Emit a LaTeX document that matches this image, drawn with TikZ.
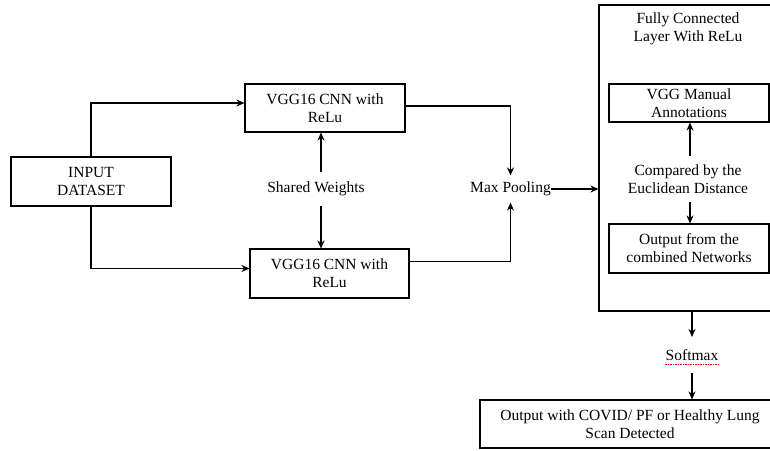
\documentclass[tikz,border=0pt]{standalone}
\usepackage{fontspec}
\setmainfont{Liberation Serif}
\usetikzlibrary{arrows.meta}

\tikzset{
  box/.style={draw,align=center,inner sep=0pt},
  lbl/.style={align=center,inner xsep=0pt,inner ysep=6pt}
}

\begin{document}
\begin{tikzpicture}[x=1pt,y=-1pt,line width=1.1pt,>={Stealth[length=8pt,width=7pt]},
  font=\fontsize{15.5}{18}\selectfont]
  \useasboundingbox (0,0) rectangle (770,450);
  \clip (0,0) rectangle (770,450);
  \node[box,minimum width=160pt,minimum height=49pt] (input) at (91,181.5) {INPUT\\DATASET};
  \node[box,minimum width=160pt,minimum height=48pt] (vggtop) at (325,108) {VGG16 CNN with\\ReLu};
  \node[box,minimum width=159pt,minimum height=49pt] (vggbot) at (329.5,273.5) {VGG16 CNN with\\ReLu};
  \node[lbl,inner ysep=9pt] (shared) at (316,189) {Shared Weights};
  \node[lbl] (pool) at (510.5,189) {Max Pooling};
  \node[box,minimum width=179pt,minimum height=306pt] (fc) at (688.5,158) {};
  \node[align=center] (fctitle) at (688,29) {Fully Connected\\Layer With ReLu};
  \node[box,minimum width=160pt,minimum height=38pt] (annot) at (689,103) {VGG Manual\\Annotations};
  \node[lbl,inner ysep=8pt] (euclid) at (688,179) {Compared by the\\Euclidean Distance};
  \node[box,minimum width=160pt,minimum height=49pt] (combined) at (689,248.5) {Output from the\\combined Networks};
  \node[lbl,inner ysep=12pt] (softmax) at (692,355) {Softmax};
  \node[box,minimum width=300pt,minimum height=48pt] (result) at (630,424) {Output with COVID/ PF or Healthy Lung\\Scan Detected};

  \draw[->] (input.north) |- ([yshift=5pt]vggtop.west);
  \draw[->] (input.south) |- ([yshift=5pt]vggbot.west);
  \draw[->] ([xshift=5pt]shared.north) -- ([xshift=5pt]shared.north |- vggtop.south);
  \draw[->] ([xshift=5pt]shared.south) -- ([xshift=5pt]shared.south |- vggbot.north);
  \draw[->] ([yshift=2pt]vggtop.east) -| (pool.north);
  \draw[->] ([yshift=12pt]vggbot.east) -| (pool.south);
  \draw[->] (pool.east) -- (pool.east -| fc.west);
  \draw[->] ([xshift=2pt]euclid.north) -- ([xshift=2pt]euclid.north |- annot.south);
  \draw[->] ([xshift=2pt]euclid.south) -- ([xshift=2pt]euclid.south |- combined.north);
  \draw[->] (fc.south -| softmax.north) -- (softmax.north);
  \draw[->] (softmax.south) -- (softmax.south |- result.north);
  \draw[red,densely dotted,line width=1.5pt] ([yshift=-4pt]softmax.base west) -- ([yshift=-4pt]softmax.base east);
\end{tikzpicture}
\end{document}
